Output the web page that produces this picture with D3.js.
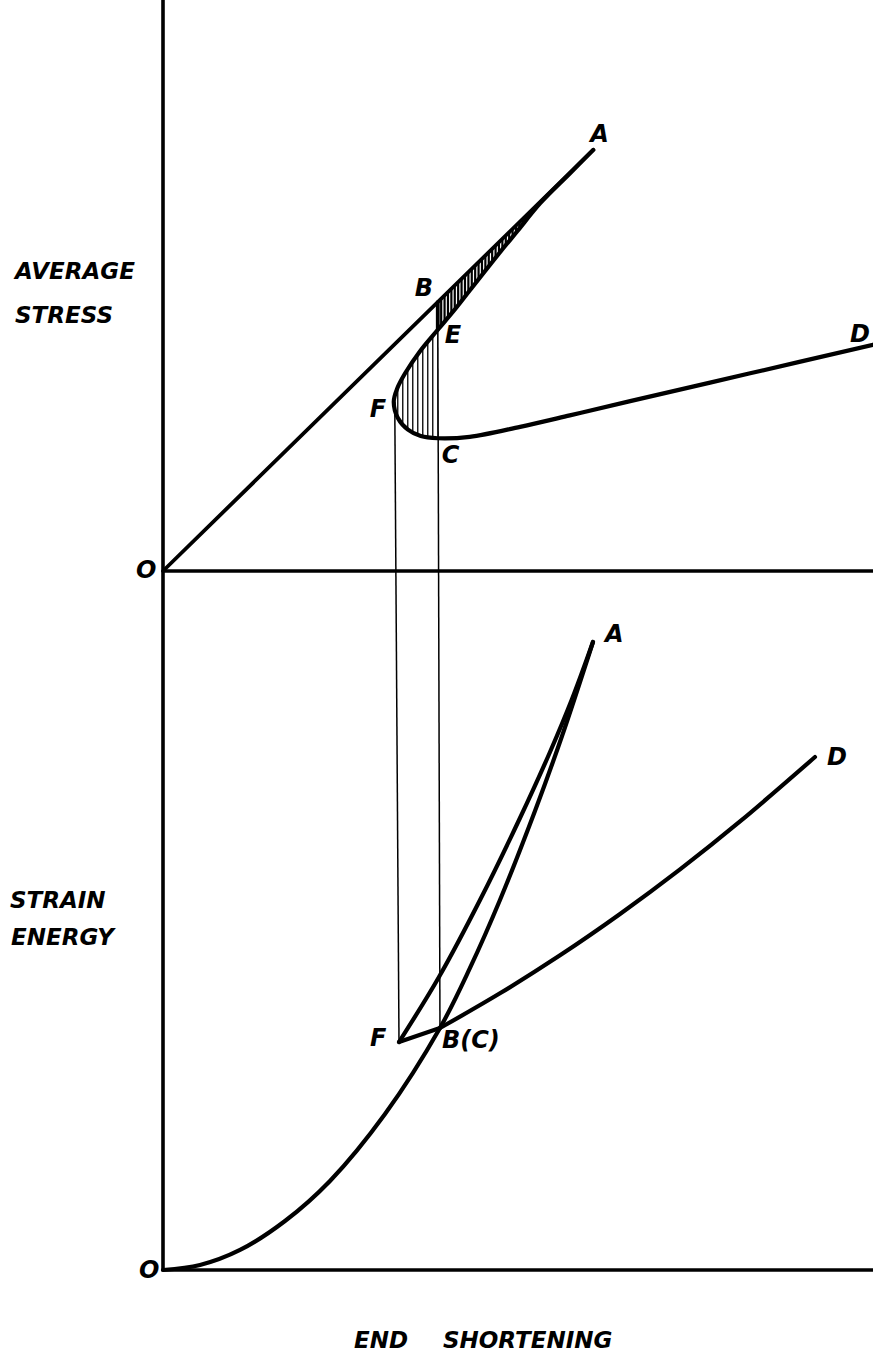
<!DOCTYPE html>
<html>
<head>
<meta charset="utf-8">
<script src="https://cdn.jsdelivr.net/npm/d3@7"></script>
<style>
  body { margin: 0; background: #fff; }
  text { font-family: "DejaVu Sans", sans-serif; font-weight: bold; font-style: italic; fill: #000; }
</style>
</head>
<body>
<svg id="chart" width="873" height="1354"></svg>
<script>
// end shortening (x) in arbitrary units, stress / strain energy in arbitrary units

// upper panel: straight elastic line O-A
const lineOA = [[0, 0], [6.06, 5.90]];

// upper panel: curve A - E - F - C - D
const stressCurve = [
  [6.06, 5.90], // A
  [5.73, 5.57],
  [5.31, 5.15],
  [4.99, 4.76],
  [4.75, 4.47],
  [4.32, 3.93],
  [4.09, 3.64],
  [3.87, 3.38], // E
  [3.62, 3.08],
  [3.41, 2.77],
  [3.30, 2.56],
  [3.25, 2.37], // F
  [3.31, 2.14],
  [3.45, 1.98],
  [3.63, 1.89],
  [3.87, 1.86], // C
  [4.32, 1.88],
  [5.03, 2.02],
  [5.73, 2.18],
  [6.58, 2.38],
  [8.27, 2.77],
  [10.0, 3.17]  // D
];
const iE = 7, iF = 11, iC = 15;

// lower panel: O - B(C) - A
const energyOBA = [
  [0, 0], [0.521, 0.070], [1.085, 0.282], [1.718, 0.690], [2.352, 1.254], [3.127, 2.197],
  [3.901, 3.408], // B(C)
  [4.324, 4.254], [4.746, 5.211], [5.239, 6.465], [5.620, 7.521], [6.056, 8.845]
];
// lower panel: F - A
const energyFA = [
  [3.324, 3.211], [3.887, 4.127], [4.465, 5.211], [5.028, 6.366], [5.451, 7.296],
  [5.761, 8.042], [6.056, 8.845]
];
// lower panel: F - B(C) - D
const energyFB = [[3.324, 3.211], [3.901, 3.408]];
const energyBD = [
  [3.901, 3.408], [4.746, 3.897], [5.592, 4.432], [6.437, 5.014], [7.282, 5.642], [8.127, 6.318], [9.183, 7.225]
];

const stressLabels = [
  ["A", 6.06, 5.90], ["B", 3.87, 3.77], ["E", 3.87, 3.38], ["F", 3.25, 2.37],
  ["C", 3.87, 1.86], ["D", 10.0, 3.17], ["O", 0, 0]
];
const energyLabels = [
  ["A", 6.056, 8.845], ["D", 9.183, 7.225], ["F", 3.324, 3.211], ["B(C)", 3.901, 3.408], ["O", 0, 0]
];
const axisTitles = {
  stress: ["AVERAGE", "STRESS"],
  energy: ["STRAIN", "ENERGY"],
  shortening: ["END", "SHORTENING"]
};

const svg = d3.select("#chart");

const x = d3.scaleLinear().domain([0, 10]).range([163, 873]);
const yS = d3.scaleLinear().domain([0, 8]).range([571, 0]);
const yE = d3.scaleLinear().domain([0, 10]).range([1270, 560]);

const curveS = d3.line().x(d => x(d[0])).y(d => yS(d[1])).curve(d3.curveCatmullRom.alpha(0.5));
const curveE = d3.line().x(d => x(d[0])).y(d => yE(d[1])).curve(d3.curveCatmullRom.alpha(0.5));
const straightS = d3.line().x(d => x(d[0])).y(d => yS(d[1]));
const straightE = d3.line().x(d => x(d[0])).y(d => yE(d[1]));

// point B on the straight line above E
const oa = d3.scaleLinear().domain([lineOA[0][0], lineOA[1][0]]).range([lineOA[0][1], lineOA[1][1]]);
const uB = stressCurve[iE][0];
const sB = oa(uB);

// clip regions for the hatching
const defs = svg.append("defs");
defs.append("clipPath").attr("id", "band")
  .append("path")
  .attr("d", curveS(stressCurve.slice(0, iE + 1)) + "L" + x(uB) + "," + yS(sB) + "Z");
defs.append("clipPath").attr("id", "lens")
  .append("path")
  .attr("d", curveS(stressCurve.slice(iE, iC + 1)) + "Z");

svg.append("g").attr("clip-path", "url(#band)")
  .selectAll("line")
  .data(d3.range(x(uB), x(stressCurve[1][0]), 3.4))
  .join("line")
  .attr("x1", d => d).attr("x2", d => d)
  .attr("y1", yS(8)).attr("y2", yS(0))
  .attr("stroke", "#000").attr("stroke-width", 2.2);

svg.append("g").attr("clip-path", "url(#lens)")
  .selectAll("line")
  .data(d3.range(x(uB), x(stressCurve[iF][0]) - 1, -5))
  .join("line")
  .attr("x1", d => d).attr("x2", d => d)
  .attr("y1", yS(8)).attr("y2", yS(0))
  .attr("stroke", "#000").attr("stroke-width", 1.3);

// axes
const axes = svg.append("g").attr("stroke", "#000").attr("stroke-width", 3.6).attr("fill", "none");
axes.append("line").attr("x1", x(0)).attr("x2", x(0)).attr("y1", yE(0) + 1).attr("y2", yS(8));
axes.append("line").attr("x1", x(0)).attr("x2", x(10)).attr("y1", yS(0)).attr("y2", yS(0));
axes.append("line").attr("x1", x(0)).attr("x2", x(10)).attr("y1", yE(0)).attr("y2", yE(0));

// thin projection lines F-F and B-B(C)
const thin = svg.append("g").attr("stroke", "#000").attr("stroke-width", 1.5);
thin.append("line")
  .attr("x1", x(stressCurve[iF][0]) + 1).attr("y1", yS(stressCurve[iF][1]))
  .attr("x2", x(energyFA[0][0])).attr("y2", yE(energyFA[0][1]));
thin.append("line")
  .attr("x1", x(uB)).attr("y1", yS(sB))
  .attr("x2", x(energyBD[0][0])).attr("y2", yE(energyBD[0][1]));

// curves
const heavy = svg.append("g").attr("stroke", "#000").attr("fill", "none")
  .attr("stroke-linecap", "round").attr("stroke-linejoin", "round");
heavy.append("path").attr("d", straightS(lineOA)).attr("stroke-width", 3.8);
heavy.append("path").attr("d", straightS([[uB, sB], stressCurve[iE]])).attr("stroke-width", 3.8);
heavy.append("path").attr("d", curveS(stressCurve)).attr("stroke-width", 4.2);
heavy.append("path").attr("d", curveE(energyOBA)).attr("stroke-width", 4.2);
heavy.append("path").attr("d", curveE(energyFA)).attr("stroke-width", 4.2);
heavy.append("path").attr("d", straightE(energyFB)).attr("stroke-width", 4.2);
heavy.append("path").attr("d", curveE(energyBD)).attr("stroke-width", 4.2);

// point labels
const stressOffset = { A: [-3, -8], B: [-23, -6], E: [7, 13], F: [-24, 15], C: [4, 25], D: [-23, -3], O: [-27, 7] };
const energyOffset = { A: [12, 0], D: [12, 8], F: [-29, 4], "B(C)": [2, 20], O: [-24, 8] };

svg.append("g").selectAll("text")
  .data(stressLabels)
  .join("text")
  .attr("x", d => x(d[1]) + stressOffset[d[0]][0])
  .attr("y", d => yS(d[2]) + stressOffset[d[0]][1])
  .attr("font-size", 24)
  .text(d => d[0]);

svg.append("g").selectAll("text")
  .data(energyLabels)
  .join("text")
  .attr("x", d => x(d[1]) + energyOffset[d[0]][0])
  .attr("y", d => yE(d[2]) + energyOffset[d[0]][1])
  .attr("font-size", 24)
  .text(d => d[0]);

// axis titles
const titles = svg.append("g").attr("font-size", 23);
titles.append("text").attr("x", 15).attr("y", 279).text(axisTitles.stress[0]);
titles.append("text").attr("x", 15).attr("y", 323).text(axisTitles.stress[1]);
titles.append("text").attr("x", 10).attr("y", 908).text(axisTitles.energy[0]);
titles.append("text").attr("x", 11).attr("y", 945).text(axisTitles.energy[1]);
titles.append("text").attr("x", 354).attr("y", 1348).text(axisTitles.shortening[0]);
titles.append("text").attr("x", 443).attr("y", 1348).text(axisTitles.shortening[1]);
</script>
</body>
</html>
